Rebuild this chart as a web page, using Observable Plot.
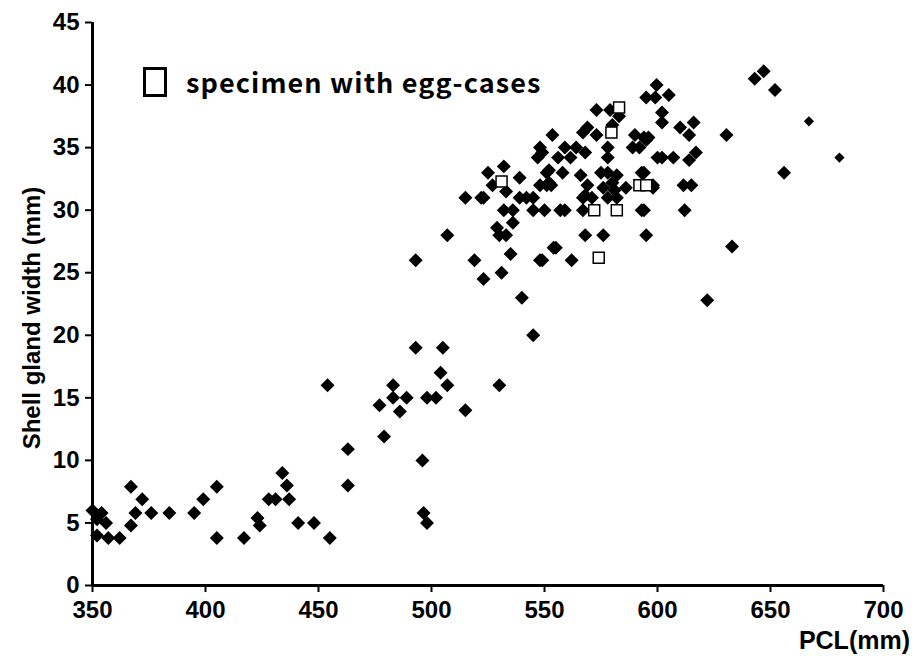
<!DOCTYPE html>
<html>
<head>
<meta charset="utf-8">
<script src="https://cdn.jsdelivr.net/npm/d3@7"></script>
<script src="https://cdn.jsdelivr.net/npm/@observablehq/plot@0.6"></script>
<style>
  body { margin: 0; background: #fff; }
  #wrap { position: relative; width: 916px; height: 659px; }
  #legend { position: absolute; left: 143px; top: 67px; display: flex; align-items: center; }
  #legend .box { width: 18px; height: 24px; border: 3px solid #000; background: #fff; }
  #legend .txt { margin-left: 19px; font-family: "Noto Sans CJK JP", sans-serif; font-size: 27px; letter-spacing: 1.1px; font-weight: bold; color: #000; white-space: nowrap; line-height: 30px; }
</style>
</head>
<body>
<div id="wrap">
  <div id="chart"></div>
  <div id="legend"><div class="box"></div><div class="txt">specimen with egg-cases</div></div>
</div>
<script>
// Specimens (filled diamonds): PCL (mm) and shell gland width (mm)
const pcl = [
  350,354,352,356,352,357,362,367,369,367,372,376,384,395,399,405,405,417,423,424,
  428,431,434,436,437,441,448,455,454,463,463,477,479,483,483,486,489,493,493,496,
  496.5,498,498,502,504,505,507,507,515,519,523,530,531,529,530,533,535,540,545,549,
  554,532,536,536,515,522,523,525,532,527,533,539,539,542,545,545,550,551,548,551,
  553,547,549,557,553.5,559,556,561.5,558,552,552,548,564,568,566,569,568,567,569,573,
  573,579,583,580,578,578,575,578,576,580,581,582,586,567,571,578,582,559,567,593,
  568,576,595,555,548,562,590,594,596,589,592,593,598,595,599,599.6,605,602,602,610,
  616,614,595,600,602,607,614,617,594,611.5,615,598,594,612,630.5,643,647,652,656,633,
  622
];
const sgw = [
  6,5.8,5.3,5,4,3.8,3.8,4.8,5.8,7.9,6.9,5.8,5.8,5.8,6.9,7.9,3.8,3.8,5.4,4.8,
  6.9,6.9,9,8,6.9,5,5,3.8,16,10.9,8,14.4,11.9,16,15,13.9,15,19,26,10,
  5.8,5,15,15,17,19,16,28,14,26,24.5,16,25,28.6,28,28,26.5,23,20,26,
  27,30,30,29,31,31,31,33,33.5,32,31.5,32.6,31,31,31,30,30,33,32,32,
  32,34.2,34.6,30,36,35,34.2,34.2,33,33.2,32.2,35,35,34.6,32.8,32,31.2,36.2,36.6,36,
  38,38,37.5,36.8,35,34.2,33,33,31.8,32.2,31.6,32.8,31.8,31,31,31,31,30,30,30,
  28,28,28,27,26,26,36,35.8,35.8,35,35,33,31.8,39,39,40,39.2,37.8,37,36.6,
  37,36,35.6,34.2,34.2,34.2,34,34.6,33,32,32,32,30,30,36,40.5,41.1,39.6,33,27.1,
  22.8
];
// Two smaller diamonds at the far right
const pclSmall = [667, 680.5];
const sgwSmall = [37.1, 34.2];
// Specimens with egg-cases (open squares)
const pclEgg = [531, 583, 579.6, 592, 595, 572, 582, 574];
const sgwEgg = [32.3, 38.2, 36.2, 32, 32, 30, 30, 26.2];

const xTicks = [350, 400, 450, 500, 550, 600, 650, 700];
const yTicks = [0, 5, 10, 15, 20, 25, 30, 35, 40, 45];

const main = pcl.map((x, i) => ({x, y: sgw[i]}));
const small = pclSmall.map((x, i) => ({x, y: sgwSmall[i]}));
const eggs = pclEgg.map((x, i) => ({x, y: sgwEgg[i]}));

const fontFam = "'Liberation Sans', Arial, sans-serif";

const chart = Plot.plot({
  width: 916,
  height: 659,
  marginLeft: 92,
  marginRight: 33,
  marginTop: 22,
  marginBottom: 74,
  style: {fontFamily: fontFam, fontSize: "24px", fontWeight: "bold", color: "#000", background: "#fff", overflow: "visible"},
  x: {domain: [350, 700]},
  y: {domain: [0, 45]},
  marks: [
    Plot.axisY({ticks: yTicks, tickSize: 7, tickPadding: 6, strokeWidth: 2,
      label: "Shell gland width (mm)", labelAnchor: "center", labelArrow: "none", labelOffset: 74}),
    Plot.axisX({ticks: xTicks, tickSize: 7, tickPadding: 8, strokeWidth: 2,
      label: "PCL(mm)", labelAnchor: "right", labelArrow: "none", labelOffset: 58}),
    Plot.ruleX([350], {stroke: "#000", strokeWidth: 3}),
    Plot.ruleY([0], {stroke: "#000", strokeWidth: 3}),
    Plot.dot(main, {x: "x", y: "y", symbol: "diamond2", r: 6.3, fill: "#000", stroke: "none"}),
    Plot.dot(small, {x: "x", y: "y", symbol: "diamond2", r: 4.6, fill: "#000", stroke: "none"}),
    Plot.dot(eggs, {x: "x", y: "y", symbol: "square", r: 6.2, fill: "#fff", stroke: "#000", strokeWidth: 1.5})
  ]
});
document.getElementById("chart").appendChild(chart);

// place axis titles as in the original
function placeLabel(sel, size, fn) {
  const g = chart.querySelector(sel);
  if (!g) return;
  const t = g.querySelector("text");
  t.style.fontSize = size;
  const s = chart.getBoundingClientRect();
  const r = t.getBoundingClientRect();
  const [dx, dy] = fn(r.left - s.left, r.right - s.left, r.top - s.top, r.bottom - s.top);
  g.setAttribute("transform", (g.getAttribute("transform") || "") + ` translate(${dx},${dy})`);
}
placeLabel('g[aria-label="x-axis label"]', "25px", (l, r, t, b) => [910 - r, 640 - (t + b) / 2]);
placeLabel('g[aria-label="y-axis label"]', "24px", (l, r, t, b) => [18 - l, 318 - (t + b) / 2]);
</script>
</body>
</html>
